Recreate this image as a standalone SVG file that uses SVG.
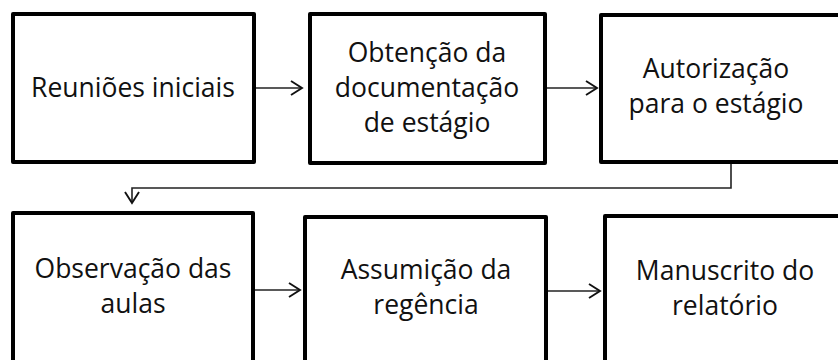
<svg xmlns="http://www.w3.org/2000/svg" width="838" height="360" viewBox="0 0 838 360">
<style>
.box{fill:#fff;stroke:#000;stroke-width:4;stroke-linejoin:round}
.lbl{font-family:"Open Sans","Liberation Sans",sans-serif;font-size:26.5px;fill:#111;text-anchor:middle}
.con{fill:none;stroke:#222;stroke-width:1.6}
</style>
<defs>
<marker id="arr" markerUnits="userSpaceOnUse" markerWidth="16" markerHeight="18" viewBox="-13 -9 15 18" refX="0" refY="0" orient="auto">
<path d="M-11,-7 L0,0 L-11,7" fill="none" stroke="#111" stroke-width="1.9" stroke-linejoin="miter"/>
</marker>
</defs>
<rect width="838" height="360" fill="#fff"/>
<g id="connectors">
<path class="con" d="M256,88 H302" marker-end="url(#arr)"/>
<path class="con" d="M547,88 H597" marker-end="url(#arr)"/>
<path class="con" d="M731,164 V188 H132 V203" marker-end="url(#arr)"/>
<path class="con" d="M255,290 H300" marker-end="url(#arr)"/>
<path class="con" d="M548,291 H600" marker-end="url(#arr)"/>
</g>
<g id="n1"><rect class="box" x="13" y="14" width="241" height="148"/>
<text class="lbl" x="133" y="97">Reuniões iniciais</text></g>
<g id="n2"><rect class="box" x="310" y="14" width="235" height="149"/>
<text class="lbl" x="427" y="62">Obtenção da</text>
<text class="lbl" x="427" y="97">documentação</text>
<text class="lbl" x="427" y="132">de estágio</text></g>
<g id="n3"><rect class="box" x="601" y="15" width="241" height="147"/>
<text class="lbl" x="716" y="78">Autorização</text>
<text class="lbl" x="716" y="113">para o estágio</text></g>
<g id="n4"><rect class="box" x="13" y="213" width="240" height="150"/>
<text class="lbl" x="133" y="278">Observação das</text>
<text class="lbl" x="133" y="313">aulas</text></g>
<g id="n5"><rect class="box" x="305" y="217" width="241" height="150"/>
<text class="lbl" x="426" y="279">Assumição da</text>
<text class="lbl" x="426" y="314">regência</text></g>
<g id="n6"><rect class="box" x="605" y="216" width="241" height="150"/>
<text class="lbl" x="725" y="280">Manuscrito do</text>
<text class="lbl" x="725" y="315">relatório</text></g>
</svg>
